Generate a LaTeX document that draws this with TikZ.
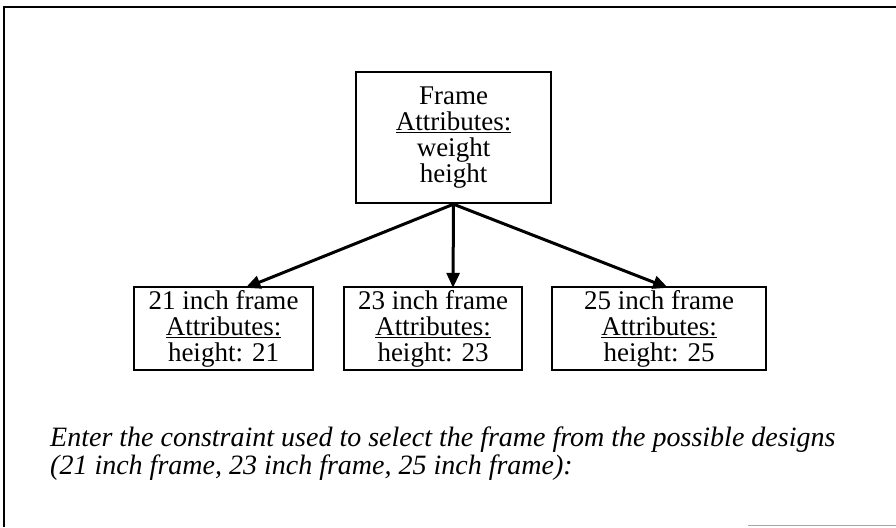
\documentclass[tikz,border=0pt]{standalone}
\usepackage{fontspec}
\setmainfont{Liberation Serif}
\usetikzlibrary{arrows.meta}
\begin{document}
\begin{tikzpicture}[x=1pt,y=-1pt,
  classbox/.style={draw,line width=2.4pt,align=center,inner sep=0pt,
    font=\fontsize{27}{26}\selectfont},
  link/.style={line width=3pt,-{Triangle[length=15pt,width=13pt]}},
  note/.style={align=left,inner sep=0pt,anchor=base west,
    font=\fontsize{28}{28}\selectfont\itshape}]
  \useasboundingbox (0,0) rectangle (896,527);
  % page border (top and left rules, faint bottom rule)
  \coordinate (tl) at (4,7);
  \coordinate (tr) at (896,7);
  \coordinate (bl) at (4,527);
  \draw[line width=2pt] (tr) -- (tl) -- (bl);
  \coordinate (bs) at (748,525.5);
  \coordinate (be) at (896,525.5);
  \draw[line width=1pt,gray!70] (bs) -- (be);
  % general class
  \node[classbox,minimum width=195pt,minimum height=131pt] (frame) at (453.5,137.5)
    {Frame\\\underline{Attributes:}\\weight\\height};
  % specialised classes
  \node[classbox,minimum width=179pt,minimum height=83pt] (f21) at (223.5,328.5)
    {21 inch frame\\\underline{Attributes:}\\height: 21};
  \node[classbox,minimum width=178pt,minimum height=83pt] (f23) at (433,328.5)
    {23 inch frame\\\underline{Attributes:}\\height: 23};
  \node[classbox,minimum width=214pt,minimum height=83pt] (f25) at (659,328.5)
    {25 inch frame\\\underline{Attributes:}\\height: 25};
  % specialisation arrows
  \draw[link] (frame.south) -- ([xshift=22pt,yshift=-2pt]f21.north);
  \draw[link] (frame.south) -- ([xshift=20pt,yshift=-2pt]f23.north);
  \draw[link] (frame.south) -- ([xshift=9pt,yshift=-2pt]f25.north);
  % prompt (base anchor sits on the last line)
  \node[note] (prompt) at (50,474)
    {Enter the constraint used to select the frame from the possible designs\\
     (21 inch frame, 23 inch frame, 25 inch frame):};
\end{tikzpicture}
\end{document}
